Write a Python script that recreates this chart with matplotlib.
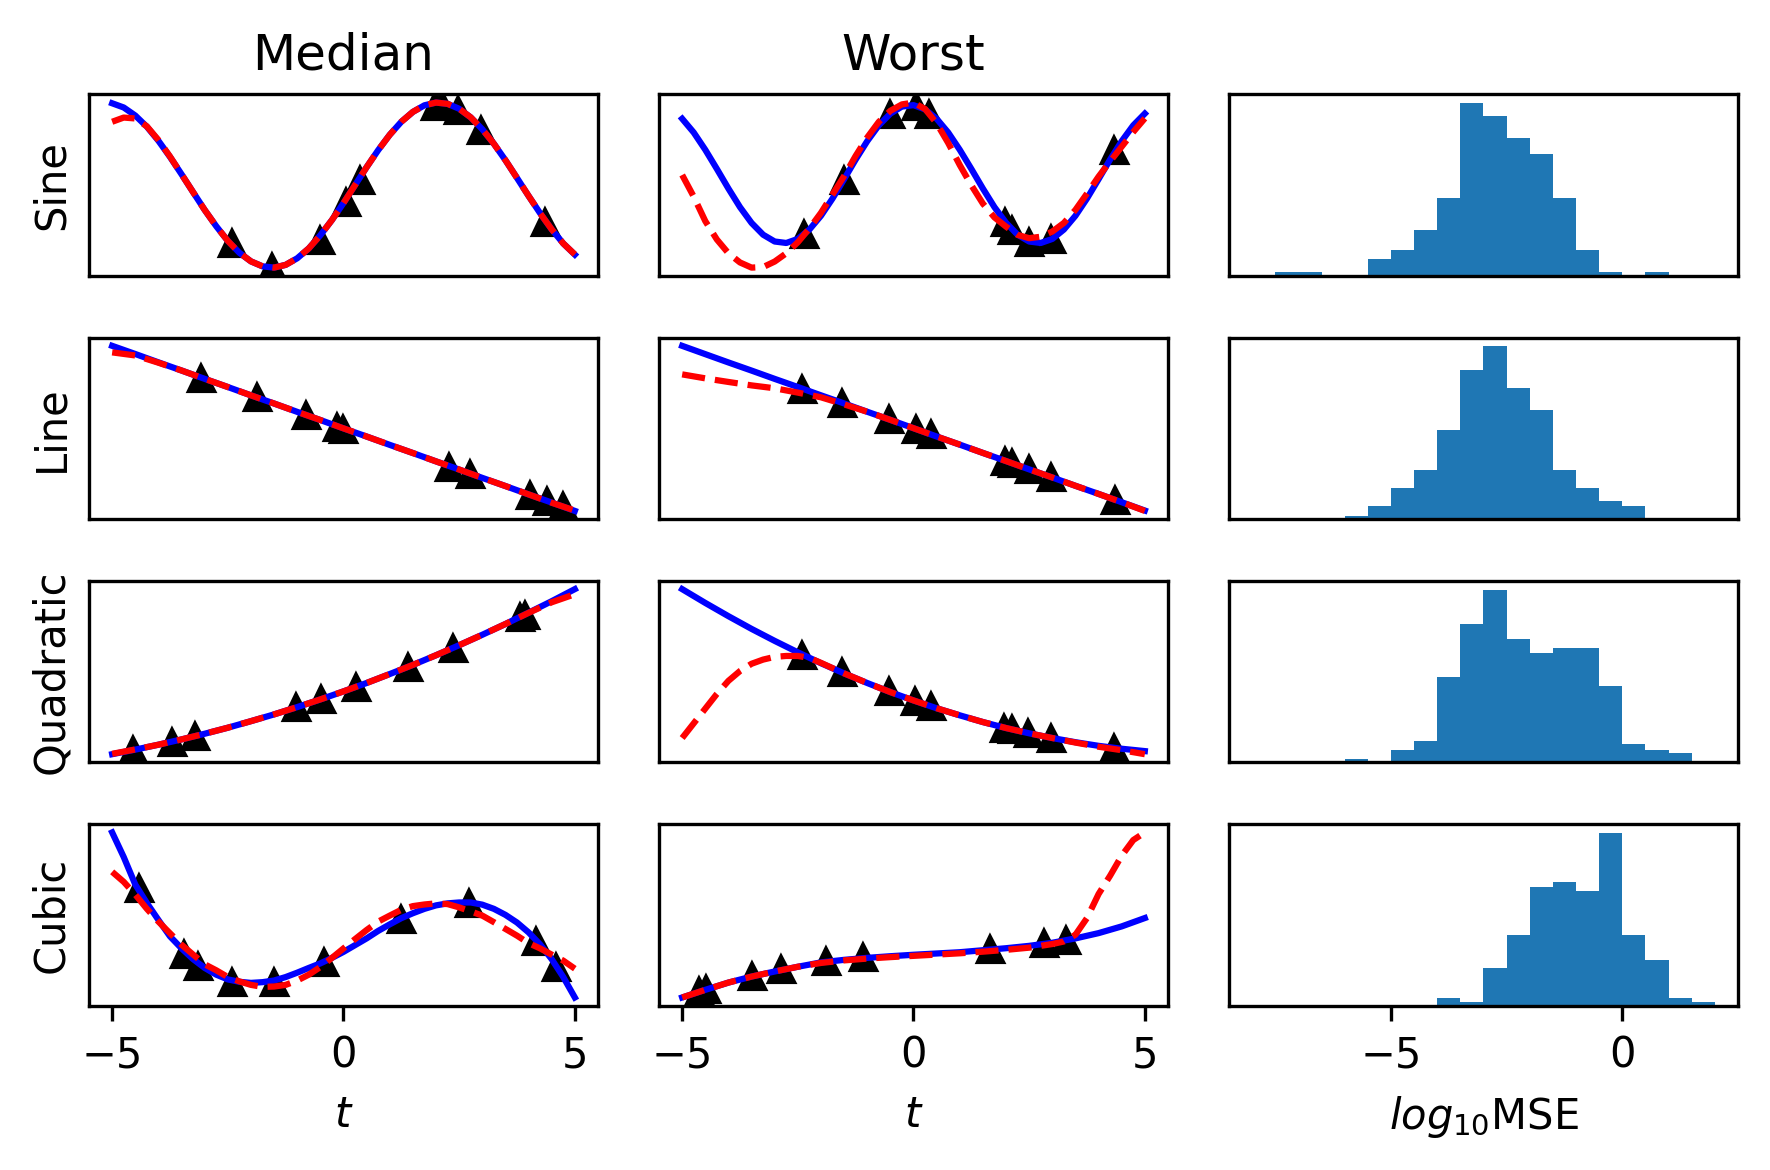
import numpy as np
import matplotlib
matplotlib.use("Agg")
import matplotlib.pyplot as plt

# evaluation grids for the curves (coarse for near-straight curves, fine for wavy ones)
t_coarse = np.linspace(-5, 5, 21)
t_fine = np.linspace(-5, 5, 41)

# ---- Sine ----
sine_med_true = [9.56, 9.33, 8.89, 8.28, 7.51, 6.63, 5.68, 4.70, 3.73, 2.84, 2.04,
                 1.39, 0.92, 0.65, 0.58, 0.73, 1.09, 1.63, 2.35, 3.18, 4.11,
                 5.09, 6.07, 7.00, 7.84, 8.55, 9.09, 9.45, 9.60, 9.53, 9.26,
                 8.79, 8.14, 7.35, 6.45, 5.48, 4.50, 3.55, 2.67, 1.90, 1.29]
sine_med_pred = [8.55, 8.78, 8.73, 8.30, 7.55, 6.65, 5.68, 4.70, 3.73, 2.84, 2.04,
                 1.39, 0.92, 0.65, 0.58, 0.73, 1.09, 1.63, 2.35, 3.18, 4.11,
                 5.09, 6.07, 7.00, 7.84, 8.55, 9.09, 9.45, 9.60, 9.53, 9.26,
                 8.79, 8.14, 7.35, 6.45, 5.48, 4.50, 3.55, 2.67, 1.90, 1.30]
sine_med_t_obs = [-2.42, -1.54, -0.50, 0.05, 0.36, 1.97, 2.12, 2.47, 2.98, 4.35]
sine_med_y_obs = [1.90, 0.62, 2.10, 4.15, 5.35, 9.40, 9.45, 9.20, 8.10, 3.05]

sine_wst_true = [8.62, 7.87, 6.93, 5.89, 4.82, 3.81, 2.95, 2.31, 1.94, 1.86, 2.08,
                 2.59, 3.34, 4.28, 5.33, 6.40, 7.40, 8.26, 8.90, 9.28, 9.36,
                 9.13, 8.62, 7.87, 6.93, 5.89, 4.82, 3.81, 2.96, 2.31, 1.94,
                 1.86, 2.08, 2.59, 3.34, 4.28, 5.33, 6.40, 7.40, 8.26, 8.90]
sine_wst_pred = [5.56, 4.38, 3.05, 2.05, 1.30, 0.80, 0.52, 0.55, 0.85, 1.30, 1.90,
                 2.65, 3.50, 4.50, 5.50, 6.60, 7.60, 8.45, 9.05, 9.40, 9.50,
                 9.15, 8.37, 7.30, 6.10, 5.00, 4.00, 3.25, 2.75, 2.30, 2.12,
                 2.20, 2.48, 2.95, 3.66, 4.55, 5.47, 6.30, 7.10, 7.90, 8.64]
sine_wst_t_obs = [-2.36, -1.51, -0.51, 0.05, 0.34, 1.97, 2.12, 2.49, 2.97, 4.34]
sine_wst_y_obs = [2.36, 5.29, 8.88, 9.30, 8.90, 3.00, 2.55, 1.92, 2.08, 6.90]

# ---- Line ----
line_med_true = [9.55, 9.10, 8.64, 8.19, 7.73, 7.28, 6.82, 6.37, 5.91, 5.46, 5.00,
                 4.55, 4.09, 3.64, 3.18, 2.73, 2.27, 1.82, 1.36, 0.91, 0.45]
line_med_pred = [9.19, 9.02, 8.62, 8.19, 7.73, 7.28, 6.82, 6.37, 5.91, 5.46, 5.00,
                 4.55, 4.09, 3.64, 3.18, 2.73, 2.27, 1.82, 1.36, 0.90, 0.47]
line_med_t_obs = [-3.08, -1.88, -0.82, -0.14, 0.00, 2.29, 2.73, 4.04, 4.40, 4.75]
line_med_y_obs = [7.79, 6.71, 5.72, 5.10, 4.97, 2.89, 2.51, 1.30, 0.99, 0.70]

line_wst_true = [9.56, 9.10, 8.64, 8.19, 7.73, 7.28, 6.82, 6.37, 5.91, 5.46, 5.00,
                 4.54, 4.09, 3.63, 3.18, 2.72, 2.27, 1.81, 1.36, 0.90, 0.44]
line_wst_pred = [7.98, 7.76, 7.56, 7.37, 7.21, 6.97, 6.71, 6.32, 5.91, 5.46, 5.00,
                 4.54, 4.09, 3.63, 3.18, 2.72, 2.27, 1.81, 1.36, 0.90, 0.42]
line_wst_t_obs = [-2.40, -1.54, -0.54, 0.06, 0.37, 1.97, 2.13, 2.49, 2.97, 4.35]
line_wst_y_obs = [7.19, 6.40, 5.49, 4.95, 4.66, 3.21, 3.06, 2.73, 2.29, 1.04]

# ---- Quadratic ----
quad_med_true = [0.54, 0.79, 1.06, 1.35, 1.66, 1.99, 2.35, 2.72, 3.12, 3.54, 3.98,
                 4.44, 4.93, 5.43, 5.96, 6.51, 7.08, 7.67, 8.29, 8.92, 9.58]
quad_med_pred = [0.56, 0.80, 1.06, 1.35, 1.66, 1.99, 2.35, 2.72, 3.12, 3.54, 3.98,
                 4.44, 4.93, 5.43, 5.96, 6.51, 7.08, 7.67, 8.28, 8.86, 9.30]
quad_med_t_obs = [-4.54, -3.71, -3.22, -1.03, -0.49, 0.26, 1.39, 2.36, 3.81, 3.93]
quad_med_y_obs = [0.75, 1.21, 1.52, 3.12, 3.57, 4.24, 5.33, 6.36, 8.07, 8.19]

quad_wst_true = [9.59, 8.83, 8.10, 7.40, 6.74, 6.11, 5.51, 4.95, 4.42, 3.92, 3.46,
                 3.03, 2.64, 2.27, 1.94, 1.65, 1.39, 1.16, 0.96, 0.80, 0.67]
quad_wst_pred_t = [-5.0, -4.75, -4.5, -4.25, -4.0, -3.75, -3.5, -3.25, -3.0, -2.75,
                   -2.5, -2.25, -2.0, -1.5, -1.0, -0.5, 0.0, 0.5, 1.0, 1.5, 2.0,
                   2.5, 3.0, 3.5, 4.0, 4.5, 5.0]
quad_wst_pred = [1.39, 2.20, 3.01, 3.82, 4.54, 5.08, 5.48, 5.71, 5.86, 5.91,
                 5.91, 5.80, 5.53, 4.95, 4.42, 3.92, 3.46, 3.03, 2.64, 2.27, 1.94,
                 1.65, 1.39, 1.14, 0.91, 0.72, 0.50]
quad_wst_t_obs = [-2.40, -1.54, -0.54, 0.04, 0.37, 1.96, 2.12, 2.47, 2.97, 4.34]
quad_wst_y_obs = [5.99, 5.00, 3.96, 3.42, 3.14, 1.96, 1.87, 1.65, 1.40, 0.84]

# ---- Cubic ----
cubic_med_true = [9.50, 8.15, 6.64, 5.63, 4.70, 3.80, 3.14, 2.55, 2.07, 1.70, 1.44,
                  1.31, 1.25, 1.29, 1.38, 1.57, 1.81, 2.07, 2.32, 2.62, 2.95,
                  3.32, 3.69, 4.10, 4.46, 4.80, 5.07, 5.31, 5.50, 5.61, 5.66,
                  5.66, 5.54, 5.31, 4.98, 4.56, 4.02, 3.36, 2.55, 1.57, 0.45]
cubic_med_pred = [7.34, 6.79, 6.09, 5.31, 4.61, 3.97, 3.34, 2.80, 2.27, 1.94, 1.57,
                  1.33, 1.14, 1.03, 1.05, 1.14, 1.38, 1.70, 2.12, 2.62, 3.14,
                  3.65, 4.15, 4.61, 4.94, 5.26, 5.46, 5.55, 5.61, 5.57, 5.39,
                  5.17, 4.94, 4.58, 4.21, 3.84, 3.43, 3.14, 2.80, 2.47, 2.03]
cubic_med_t_obs = [-4.43, -3.44, -3.14, -2.41, -1.51, -0.43, 1.25, 2.72, 4.17, 4.59]
cubic_med_y_obs = [6.44, 2.84, 2.19, 1.31, 1.31, 2.42, 4.74, 5.63, 3.52, 2.14]

cubic_wst_true = [0.46, 0.88, 1.28, 1.61, 1.89, 2.15, 2.39, 2.53, 2.64, 2.73, 2.81,
                  2.88, 2.95, 3.06, 3.17, 3.30, 3.47, 3.71, 4.00, 4.37, 4.83]
cubic_wst_pred_t = [-5.0, -4.5, -4.0, -3.5, -3.0, -2.5, -2.0, -1.5, -1.0, -0.5, 0.0,
                    0.5, 1.0, 1.5, 2.0, 2.5, 3.0, 3.25, 3.5, 3.75, 4.0, 4.25,
                    4.5, 4.75, 5.0]
cubic_wst_pred = [0.46, 0.88, 1.28, 1.61, 1.89, 2.15, 2.36, 2.50, 2.60, 2.68, 2.75,
                  2.82, 2.89, 2.98, 3.08, 3.20, 3.40, 3.54, 3.91, 4.83, 6.15, 7.16,
                  8.26, 9.12, 9.54]
cubic_wst_t_obs = [-4.63, -4.49, -3.48, -2.86, -1.90, -1.09, 1.66, 2.82, 3.29]
cubic_wst_y_obs = [0.80, 0.91, 1.66, 2.02, 2.45, 2.66, 3.11, 3.43, 3.61]

# ---- log10 MSE histograms (counts per bin) ----
mse_bins = np.arange(-8, 2.01, 0.5)
mse_sine = [0, 2, 2, 0, 0, 9, 14, 25, 43, 95, 88, 76, 67, 43, 14, 2, 0, 2, 0, 0]
mse_line = [0, 0, 0, 0, 2, 7, 17, 27, 49, 82, 95, 72, 60, 27, 17, 10, 7, 0, 0, 0]
mse_quad = [0, 0, 0, 0, 2, 0, 7, 12, 47, 76, 95, 68, 60, 63, 63, 42, 10, 7, 5, 0]
mse_cubic = [0, 0, 0, 0, 0, 0, 0, 0, 4, 2, 21, 39, 65, 68, 63, 95, 39, 25, 4, 2]

row_names = ["Sine", "Line", "Quadratic", "Cubic"]
# (t for truth, truth, t for prediction, prediction, observed t, observed y)
median_sets = [
    (t_fine, sine_med_true, t_fine, sine_med_pred, sine_med_t_obs, sine_med_y_obs),
    (t_coarse, line_med_true, t_coarse, line_med_pred, line_med_t_obs, line_med_y_obs),
    (t_coarse, quad_med_true, t_coarse, quad_med_pred, quad_med_t_obs, quad_med_y_obs),
    (t_fine, cubic_med_true, t_fine, cubic_med_pred, cubic_med_t_obs, cubic_med_y_obs),
]
worst_sets = [
    (t_fine, sine_wst_true, t_fine, sine_wst_pred, sine_wst_t_obs, sine_wst_y_obs),
    (t_coarse, line_wst_true, t_coarse, line_wst_pred, line_wst_t_obs, line_wst_y_obs),
    (t_coarse, quad_wst_true, quad_wst_pred_t, quad_wst_pred, quad_wst_t_obs, quad_wst_y_obs),
    (t_coarse, cubic_wst_true, cubic_wst_pred_t, cubic_wst_pred, cubic_wst_t_obs, cubic_wst_y_obs),
]
mse_counts = [mse_sine, mse_line, mse_quad, mse_cubic]

fig, axes = plt.subplots(4, 3, figsize=(5.9, 3.9), dpi=300)
fig.subplots_adjust(left=0.0503, right=0.9819, top=0.9194, bottom=0.1404,
                    wspace=0.12, hspace=0.34)

for i, name in enumerate(row_names):
    for j, (tt, true, tp, pred, t_obs, y_obs) in enumerate([median_sets[i], worst_sets[i]]):
        ax = axes[i, j]
        ax.plot(t_obs, y_obs, 'k^')
        ax.plot(tt, true, 'b-')
        ax.plot(tp, pred, 'r--')
        ax.set_yticks([])

    ax = axes[i, 2]
    ax.hist(mse_bins[:-1], bins=mse_bins, weights=mse_counts[i])
    ax.set_yticks([])

    if i < 3:
        for ax in axes[i]:
            ax.set_xticks([])
    axes[i, 0].set_ylabel(name)

axes[0, 0].set_title("Median")
axes[0, 1].set_title("Worst")
axes[3, 0].set_xlabel("$t$")
axes[3, 1].set_xlabel("$t$")
axes[3, 2].set_xlabel("$log_{10}$MSE")

fig.savefig("out.png", dpi=300)
